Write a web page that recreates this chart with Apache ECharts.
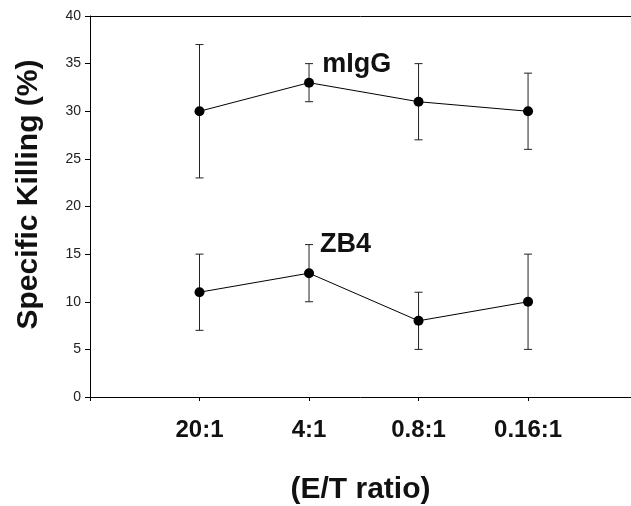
<!DOCTYPE html>
<html>
<head>
<meta charset="utf-8">
<script src="https://cdn.jsdelivr.net/npm/echarts@6/dist/echarts.min.js"></script>
<style>
  html, body { margin: 0; padding: 0; background: #fff; }
  #chart { width: 631px; height: 506px; }
</style>
</head>
<body>
<div id="chart"></div>
<script>
// data
const categories = ['20:1', '4:1', '0.8:1', '0.16:1'];
const mIgGMean = [30, 33, 31, 30];
const mIgGLow = [23, 31, 27, 26];
const mIgGHigh = [37, 35, 35, 34];
const zb4Mean = [11, 13, 8, 10];
const zb4Low = [7, 10, 5, 5];
const zb4High = [15, 16, 11, 15];
const yTicks = [0, 5, 10, 15, 20, 25, 30, 35, 40];

const font = '"Liberation Sans", Arial, sans-serif';
const ink = '#111';
const xMax = 4.94; // frame runs a bit past the last category

// categories sit at x = 1..n on a value axis so the frame runs past them
const points = (vals) => vals.map((v, i) => [i + 1, v]);
const bars = (low, high) => low.map((l, i) => [i + 1, l, high[i]]);

const errorSeries = (name, low, high) => ({
  name: name + ' error',
  type: 'custom',
  data: bars(low, high),
  z: 1,
  renderItem: (params, api) => {
    const x = api.value(0);
    const lo = api.coord([x, api.value(1)]);
    const hi = api.coord([x, api.value(2)]);
    const cap = 4;
    const style = { stroke: '#222', lineWidth: 1 };
    return {
      type: 'group',
      children: [
        { type: 'line', shape: { x1: lo[0], y1: lo[1], x2: hi[0], y2: hi[1] }, style },
        { type: 'line', shape: { x1: lo[0] - cap, y1: lo[1], x2: lo[0] + cap, y2: lo[1] }, style },
        { type: 'line', shape: { x1: hi[0] - cap, y1: hi[1], x2: hi[0] + cap, y2: hi[1] }, style }
      ]
    };
  }
});

const lineSeries = (name, vals, labelCoord) => ({
  name,
  type: 'line',
  data: points(vals),
  z: 3,
  symbol: 'circle',
  symbolSize: 10,
  itemStyle: { color: '#000' },
  lineStyle: { color: '#000', width: 1 },
  markPoint: {
    symbol: 'circle',
    symbolSize: 0,
    data: [{ coord: labelCoord }],
    label: {
      show: true,
      position: 'right',
      distance: 0,
      formatter: name,
      color: ink,
      fontFamily: font,
      fontWeight: 'bold',
      fontSize: 27
    }
  }
});

const chart = echarts.init(document.getElementById('chart'));
chart.setOption({
  animation: false,
  backgroundColor: '#fff',
  grid: { left: 90, right: 0, top: 16, bottom: 109, outerBoundsMode: 'none' },
  xAxis: [
    {
      type: 'value',
      min: 0,
      max: xMax,
      interval: 1,
      name: '(E/T ratio)',
      nameLocation: 'middle',
      nameGap: 78,
      nameTextStyle: { color: ink, fontFamily: font, fontWeight: 'bold', fontSize: 30 },
      axisLine: { show: true, lineStyle: { color: '#000', width: 1 } },
      axisTick: { show: true, inside: false, length: 4, lineStyle: { color: '#000' } },
      axisLabel: {
        margin: 21,
        color: ink,
        fontFamily: font,
        fontWeight: 'bold',
        fontSize: 24,
        showMaxLabel: false,
        formatter: (v) => categories[v - 1] || ''
      },
      splitLine: { show: false }
    },
    {
      type: 'value',
      position: 'top',
      min: 0,
      max: xMax,
      axisLine: { show: true, lineStyle: { color: '#000', width: 1 } },
      axisTick: { show: false },
      axisLabel: { show: false },
      splitLine: { show: false }
    }
  ],
  yAxis: {
    type: 'value',
    min: yTicks[0],
    max: yTicks[yTicks.length - 1],
    interval: yTicks[1] - yTicks[0],
    name: 'Specific Killing (%)',
    nameLocation: 'middle',
    nameGap: 46,
    nameTextStyle: {
      color: ink, fontFamily: font, fontWeight: 'bold', fontSize: 30,
      padding: [0, 0, 0, 24]
    },
    axisLine: { show: true, lineStyle: { color: '#000', width: 1 } },
    axisTick: { show: true, length: 5, lineStyle: { color: '#000' } },
    axisLabel: { margin: 9, color: '#222', fontFamily: font, fontSize: 14 },
    splitLine: { show: false }
  },
  series: [
    errorSeries('mIgG', mIgGLow, mIgGHigh),
    errorSeries('ZB4', zb4Low, zb4High),
    lineSeries('mIgG', mIgGMean, [2.12, 34.9]),
    lineSeries('ZB4', zb4Mean, [2.1, 16])
  ]
});
</script>
</body>
</html>
